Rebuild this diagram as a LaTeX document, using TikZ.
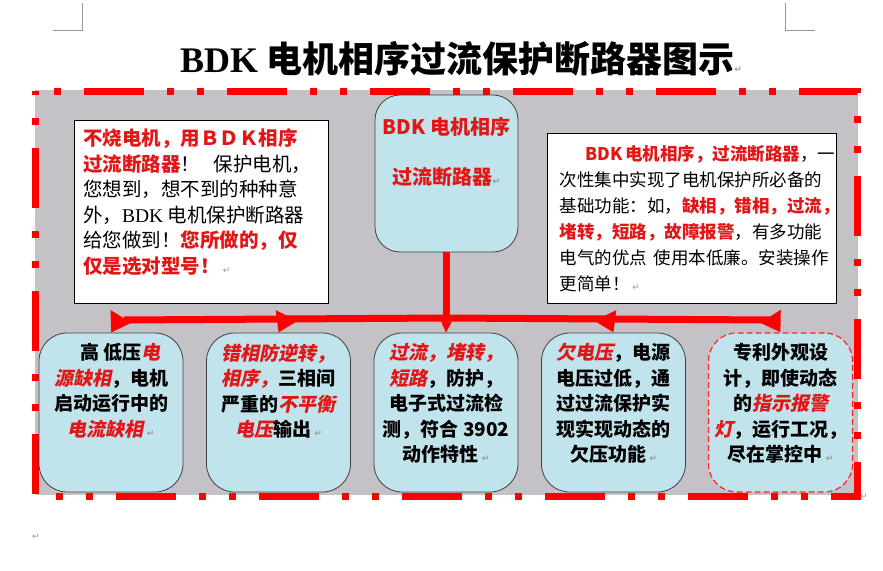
\documentclass[tikz,border=0pt]{standalone}
\usepackage{fontspec}
\setmainfont{Liberation Serif}
\newfontfamily\cjk{Noto Sans CJK SC}
\newfontfamily\cjkit[FakeSlant=0.2]{Noto Sans CJK SC}
\newfontfamily\symfont{DejaVu Sans}
\usetikzlibrary{shapes,arrows.meta,calc,positioning}

\definecolor{rahmenrot}{RGB}{255,0,0}
\definecolor{textrot}{RGB}{226,22,22}
\definecolor{hintergrund}{RGB}{196,194,198}
\definecolor{kastenblau}{RGB}{193,227,235}
\definecolor{markgrau}{RGB}{150,150,150}

\newcommand\redbf[1]{{\color{textrot}\bfseries #1}}
\newcommand\redit[1]{{\cjkit\bfseries\color{textrot}#1}}
\newcommand\absatz{{\symfont\fontsize{9}{9}\selectfont\color{markgrau}↵}}
\newcommand\kastentext[1]{\parbox[c][138pt][t]{142pt}{\centering #1}}

\begin{document}
\begin{tikzpicture}[x=1pt,y=-1pt,
  rahmen/.style={draw=rahmenrot, line width=7pt,
    dash pattern=on 60pt off 23pt on 7pt off 23pt on 7pt off 23pt, dash phase=94pt},
  kasten/.style={draw=black!75, fill=kastenblau, line width=0.8pt, rounded corners=28pt,
    minimum width=144pt, minimum height=159pt, inner sep=0pt,
    font=\cjk\bfseries\fontsize{19}{25.5}\selectfont},
  textkasten/.style={draw=black, fill=white, line width=1pt, inner sep=0pt, font=\cjk},
  stamm/.style={draw=rahmenrot, line width=7pt},
  pfeil/.style={draw=rahmenrot, line width=6pt, -{Triangle[width=23pt,length=19pt]}},
  duennpfeil/.style={draw=rahmenrot, line width=2pt, -{Triangle[width=10pt,length=11pt]}},
  marke/.style={draw=markgrau, line width=0.8pt}]
  \useasboundingbox (0,0) rectangle (883,570);

  % page corner marks
  \draw[marke] (53,30) -- (82,30) -- (82,3);
  \draw[marke] (815,30) -- (785,30) -- (785,3);

  \node[font=\cjk\bfseries\fontsize{36}{40}\selectfont] (title) at (461,59)
    {{\rmfamily\bfseries BDK} 电机相序过流保护断路器图示\absatz};

  \fill[hintergrund] (35,90) rectangle (858,495);
  \draw[rahmen] (35,91) -- (857,91) -- (857,496) -- (35,496) -- cycle;

  \node[kasten, rounded corners=25pt, minimum width=143pt, minimum height=157pt] (breaker) at (446.5,173.5)
    {\parbox[c][113pt][t]{140pt}{\centering\fontsize{20}{50}\selectfont
      \redbf{BDK 电机相序}\\ \redbf{过流断路器}\absatz}};

  \node[textkasten, minimum width=254pt, minimum height=183pt] (praise) at (201,211.5)
    {\parbox[c][165pt][t]{236pt}{\fontsize{19.5}{25.5}\selectfont
      \redbf{不烧电机，用ＢＤＫ相序}\\
      \redbf{过流断路器}！\hspace*{0.7em}保护电机，\\
      您想到，想不到的种种意\\
      外，{\rmfamily BDK} 电机保护断路器\\
      给您做到！\redbf{您所做的，仅}\\
      \redbf{仅是选对型号！}\,\absatz}};

  \node[textkasten, minimum width=289pt, minimum height=170pt] (features) at (691.5,218)
    {\parbox[c][146pt][t]{264pt}{\fontsize{17.5}{26}\selectfont
      \hspace*{26pt}\redbf{BDK 电机相序，过流断路器}，一\\
      次性集中实现了电机保护所必备的\\
      基础功能：如，\redbf{缺相，错相，过流，}\\
      \redbf{堵转，短路，故障报警}，有多功能\\
      电气的优点\hspace*{0.4em}使用本低廉。安装操作\\
      更简单！\,\absatz}};

  \node[kasten] (phaseloss) at (111,412.5)
    {\kastentext{\hspace*{1em}高\ 低压\redit{电}\\ \redit{源缺相}，电机\\ 启动运行中的\\ \redit{电流缺相}\,\absatz}};
  \node[kasten] (phaseorder) at (278.5,412.5)
    {\kastentext{\redit{错相防逆转，}\\ \redit{相序，}三相间\\ 严重的\redit{不平衡}\\ \redit{电压}输出\,\absatz}};
  \node[kasten] (overcurrent) at (446,412.5)
    {\kastentext{\redit{过流，堵转，}\\ \redit{短路}，防护，\\ 电子式过流检\\ 测，符合 3902\\ 动作特性\,\absatz}};
  \node[kasten] (undervoltage) at (613.5,412.5)
    {\kastentext{\redit{欠电压}，电源\\ 电压过低，通\\ 过过流保护实\\ 现实现动态的\\ 欠压功能\,\absatz}};
  \node[kasten, draw=rahmenrot!85, line width=1.2pt, dash pattern=on 6pt off 3pt] (indicator) at (780.5,412.5)
    {\kastentext{专利外观设\\ 计，即使动态\\ 的\redit{指示报警}\\ \redit{灯}，运行工况，\\ 尽在掌控中\,\absatz}};

  \node (absatzende) at (864,497) {\absatz};
  \node (absatzleer) at (36,537) {\absatz};

  \coordinate (hub) at (446.5,318);
  \coordinate (barleft) at (124,320);
  \coordinate (barright) at (770,320);

  \draw[stamm] (breaker.south) -- (hub);
  \draw[stamm] (barleft) -- (hub) -- (barright);
  \draw[pfeil] ([xshift=9pt]phaseloss.north |- hub) -- (phaseloss.north);
  \draw[pfeil] ([xshift=7pt]phaseorder.north |- hub) -- (phaseorder.north);
  \draw[duennpfeil] (hub) -- (overcurrent.north);
  \draw[pfeil] ([xshift=-7pt]undervoltage.north |- hub) -- (undervoltage.north);
  \draw[pfeil] ([xshift=-9pt]indicator.north |- hub) -- (indicator.north);

\end{tikzpicture}
\end{document}
